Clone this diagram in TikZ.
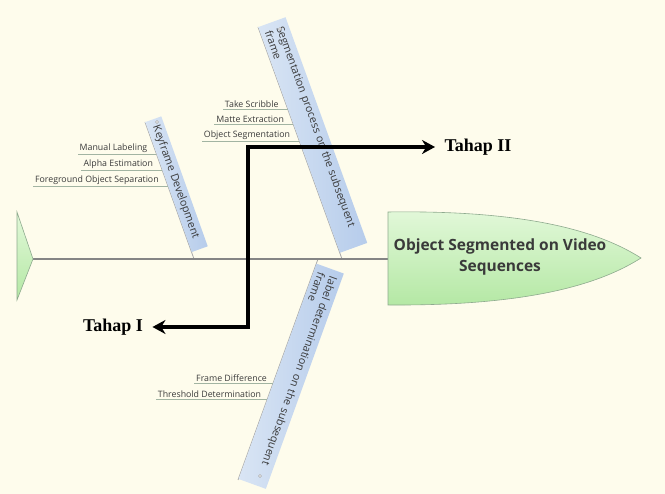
\documentclass[tikz,border=0pt]{standalone}
\usepackage{fontspec}
\setmainfont{Liberation Serif}
\setsansfont{Open Sans}
\usetikzlibrary{arrows.meta, calc}
\definecolor{bgcol}{HTML}{FEFCEC}
\definecolor{headtop}{HTML}{E2F8D9}
\definecolor{headbot}{HTML}{B4E8A4}
\definecolor{headline}{HTML}{8EAA8E}
\definecolor{bandlight}{HTML}{D9E5F4}
\definecolor{banddark}{HTML}{B6CCEB}
\definecolor{spinecol}{HTML}{858585}
\definecolor{bonecol}{HTML}{A8A8A8}
\definecolor{leafcol}{HTML}{A2B4A2}
\definecolor{txtcol}{HTML}{3A3A3A}
\tikzset{
  band/.style={rectangle, left color=bandlight, right color=banddark, font=\sffamily\fontsize{10.8}{12.5}\selectfont, text=txtcol, inner xsep=7pt, inner ysep=2pt, align=left, sloped},
  leaf/.style={font=\sffamily\fontsize{8.8}{10}\selectfont, text=txtcol, inner xsep=2pt, inner ysep=1.5pt, anchor=south east},
  leafline/.style={draw=leafcol, line width=0.7pt},
  bone/.style={draw=bonecol, line width=0.8pt},
  spine/.style={draw=spinecol, line width=2.4pt},
  fishpart/.style={top color=headtop, bottom color=headbot, draw=headline, line width=0.6pt},
  dotmark/.style={circle, draw=gray!70, fill=white, inner sep=0pt, minimum size=3pt},
  stagelabel/.style={font=\bfseries\fontsize{18}{20}\selectfont},
  stagearrow/.style={line width=4pt, {Stealth[length=13pt,width=14pt]}-{Stealth[length=13pt,width=14pt]}, shorten <=6pt, shorten >=6pt},
}
\begin{document}
\begin{tikzpicture}[x=1pt, y=1pt]
  \fill[bgcol] (0,0) rectangle (665,494);
  % bone ends
  \coordinate (K0) at (145,372);
  \coordinate (K1) at (194,235);
  \coordinate (S0) at (258,467);
  \coordinate (S1) at (342,235);
  \coordinate (L0) at (238,14);
  \coordinate (L1) at (318,235);
  \draw[bone] (K0) -- (K1);
  \draw[bone] (S0) -- (S1);
  \draw[bone] (L0) -- (L1);
  % labels on the bones
  \path (K0) -- (K1) node[band, pos=0, anchor=south west, text width=124pt, minimum height=17pt] (kfd) {Keyframe Development};
  \path (S0) -- (S1) node[band, pos=0, anchor=south west, text width=226pt, minimum height=29pt] (spf) {Segmentation process on the subsequent\\frame};
  \path (L1) -- (L0) node[band, allow upside down, pos=0.02, anchor=south west, text width=215pt, minimum height=29pt] (ldf) {label determination on the subsequent\\frame};
  \node[dotmark] (kdot) at (157,372) {};
  \node[dotmark] (sdot) at (280,465) {};
  \node[dotmark] (ldot) at (260,18) {};
  % small branches
  \coordinate (k1) at (intersection of K0--K1 and 0,340--665,340);
  \coordinate (k2) at (intersection of K0--K1 and 0,324--665,324);
  \coordinate (k3) at (intersection of K0--K1 and 0,308--665,308);
  \node[leaf] (ml) at ($(k1)+(-7,0)$) {Manual Labeling};
  \node[leaf] (ae) at ($(k2)+(-7,0)$) {Alpha Estimation};
  \node[leaf] (fos) at ($(k3)+(-7,0)$) {Foreground Object Separation};
  \draw[leafline] (k1) -- (ml.south west);
  \draw[leafline] (k2) -- (ae.south west);
  \draw[leafline] (k3) -- (fos.south west);
  \coordinate (s1) at (intersection of S0--S1 and 0,385--665,385);
  \coordinate (s2) at (intersection of S0--S1 and 0,370--665,370);
  \coordinate (s3) at (intersection of S0--S1 and 0,353--665,353);
  \node[leaf] (ts) at ($(s1)+(-7,0)$) {Take Scribble};
  \node[leaf] (me) at ($(s2)+(-7,0)$) {Matte Extraction};
  \node[leaf] (os) at ($(s3)+(-7,0)$) {Object Segmentation};
  \draw[leafline] (s1) -- (ts.south west);
  \draw[leafline] (s2) -- (me.south west);
  \draw[leafline] (s3) -- (os.south west);
  \coordinate (l1) at (intersection of L0--L1 and 0,111--665,111);
  \coordinate (l2) at (intersection of L0--L1 and 0,95--665,95);
  \node[leaf] (fd) at ($(l1)+(-4,0)$) {Frame Difference};
  \node[leaf] (td) at ($(l2)+(-4,0)$) {Threshold Determination};
  \draw[leafline] (l1) -- (fd.south west);
  \draw[leafline] (l2) -- (td.south west);
  % spine, head and tail
  \coordinate (tailtip) at (33,235);
  \coordinate (headin) at (388,235);
  \draw[spine] (tailtip) -- (headin);
  \path[fishpart] (388,282) .. controls (530,284) and (600,262) .. (641,236)
    .. controls (600,210) and (530,188) .. (388,189) -- cycle;
  \path[fishpart] (17,282) -- (tailtip) -- (17,194) -- cycle;
  \node[font=\sffamily\bfseries\fontsize{15.5}{21}\selectfont, text=txtcol, align=center] (head) at (500,237) {Object Segmented on Video\\Sequences};
  % stages
  \node[stagelabel] (t1) at (113,167) {Tahap I};
  \node[stagelabel] (t2) at (478,347) {Tahap II};
  \coordinate (turn) at (248,250);
  \draw[stagearrow] (t1.east) -- (t1.east -| turn) -- (turn |- t2.west) -- (t2.west);
\end{tikzpicture}
\end{document}
